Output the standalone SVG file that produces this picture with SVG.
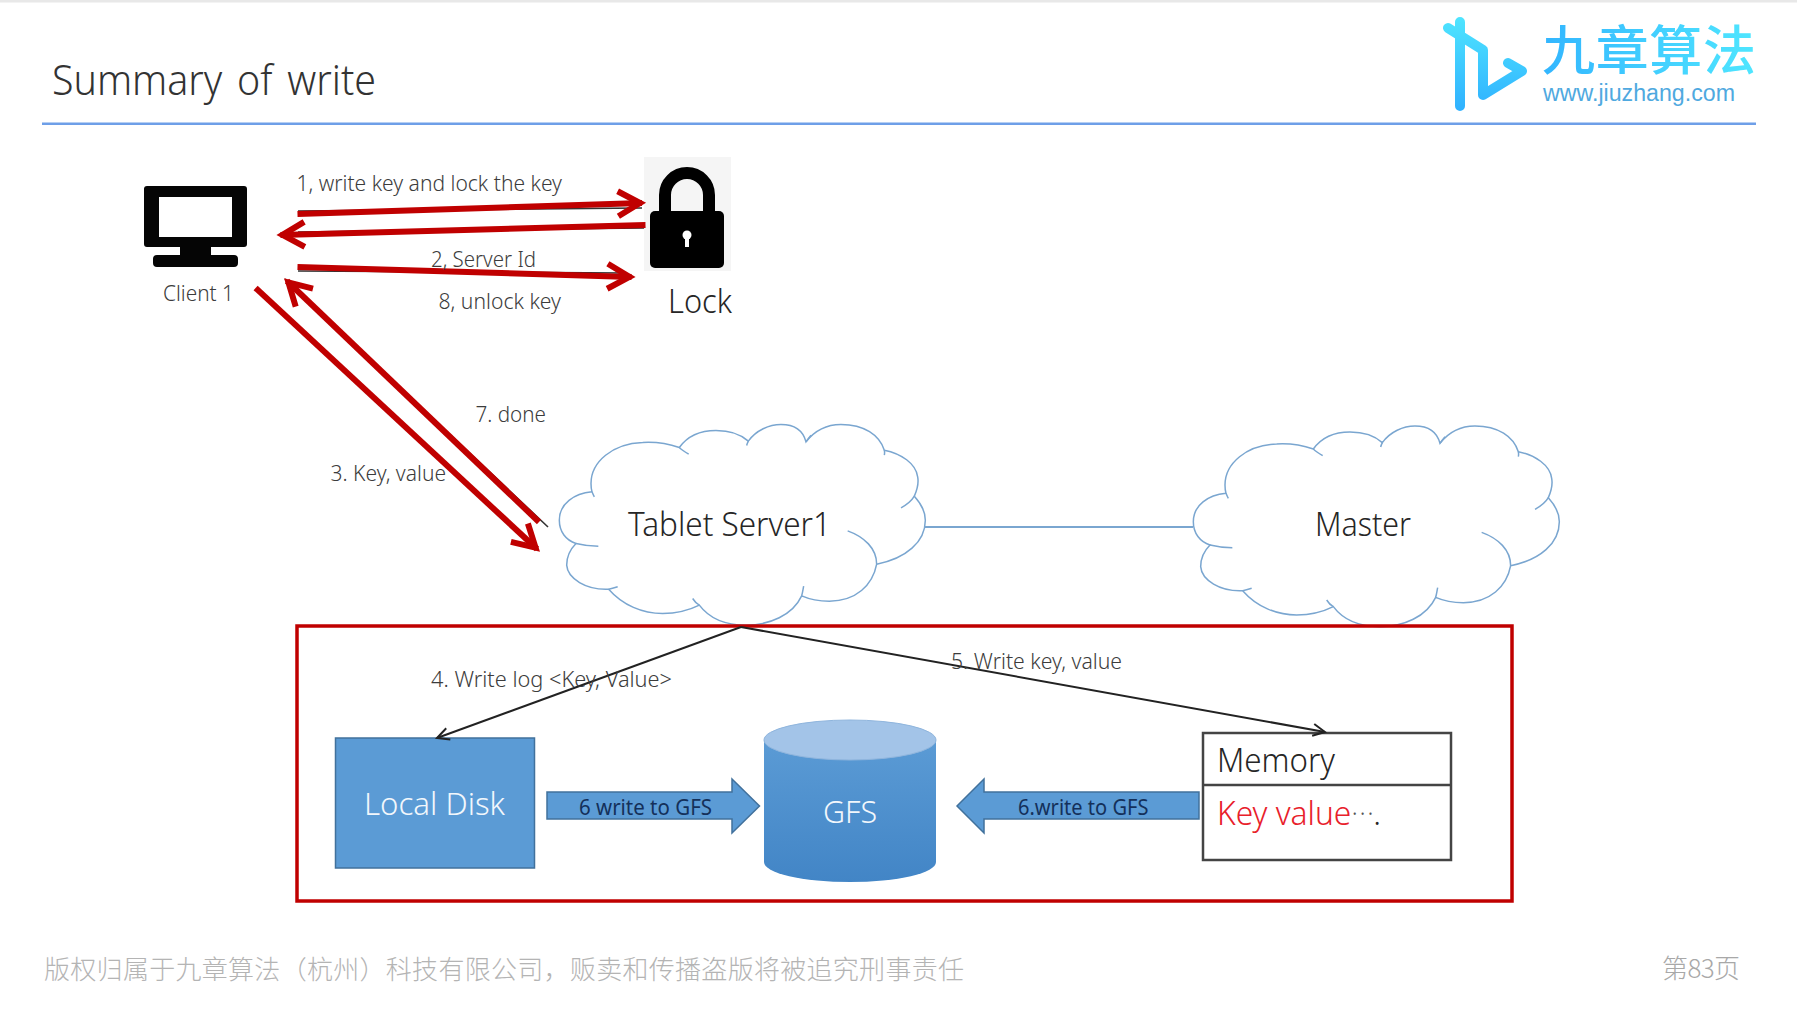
<svg xmlns="http://www.w3.org/2000/svg" width="1797" height="1016" viewBox="0 0 1797 1016">
<style>
.lbl{font-family:"Noto Sans","Open Sans","Liberation Sans",sans-serif;font-weight:300;font-size:21px;fill:#3c3c3c}
.big{font-family:"Noto Sans","Open Sans","Liberation Sans",sans-serif;font-weight:300;font-size:33px;fill:#262626}
.wht{font-family:"Noto Sans","Open Sans","Liberation Sans",sans-serif;font-weight:300;font-size:32px;fill:#f2f7fc}
.blk{font-family:"Noto Sans","Open Sans","Liberation Sans",sans-serif;font-weight:400;font-size:21px;fill:#14305a}
.cjk{font-family:"Noto Sans CJK SC","Noto Sans",sans-serif;font-weight:300}
.red{fill:none;stroke:#c00000;stroke-width:6}
.thin{fill:none;stroke:#222;stroke-width:2}
.shade{fill:none;stroke:#333;stroke-width:1.6}
.blu{fill:#5b9bd5;stroke:#41719c;stroke-width:1.5}
</style>
<defs>
<marker id="ah" markerUnits="userSpaceOnUse" markerWidth="40" markerHeight="40" viewBox="-30 -20 40 40" refX="0" refY="0" orient="auto" overflow="visible">
<path d="M-24 -12.5L-2 0L-24 12.5" fill="none" stroke="#c00000" stroke-width="6"/>
</marker>
<marker id="at" markerUnits="userSpaceOnUse" markerWidth="24" markerHeight="24" viewBox="-16 -12 24 24" refX="0" refY="0" orient="auto" overflow="visible">
<path d="M-12 -6L0 0L-12 6" fill="none" stroke="#222" stroke-width="2"/>
</marker>
<linearGradient id="gm" gradientUnits="userSpaceOnUse" x1="0" y1="15" x2="0" y2="112"><stop offset="0" stop-color="#4fe6ff"/><stop offset="1" stop-color="#2fb0ff"/></linearGradient>
<linearGradient id="gt" gradientUnits="userSpaceOnUse" x1="1543" y1="0" x2="1756" y2="0"><stop offset="0" stop-color="#33b6ff"/><stop offset="1" stop-color="#4fe6ff"/></linearGradient>
<linearGradient id="gc" x1="0" y1="0" x2="0" y2="1"><stop offset="0" stop-color="#5b9bd5"/><stop offset="1" stop-color="#4285c6"/></linearGradient>
<g id="cloud" transform="translate(1170 410) scale(.33333)" fill="none" stroke="#7aa6d0" stroke-width="4.5">
<path fill="#fff" d="M168 250C115 255 70 285 70 335C70 370 90 395 120 405C100 425 92 450 92 470C95 510 150 545 218 542C260 590 320 615 380 615C420 615 460 605 490 590C520 630 570 650 630 650C700 650 770 620 797 562C820 572 850 578 880 578C960 578 1010 530 1022 467C1110 450 1168 400 1168 335C1168 310 1155 285 1135 263C1145 240 1148 220 1145 205C1140 165 1095 135 1045 125C1030 80 985 48 915 48C870 48 835 68 810 100C800 62 770 48 735 48C700 48 660 65 637 98C615 78 580 66 540 66C495 66 455 82 430 117C395 105 355 100 320 102C230 105 165 160 165 225C165 235 166 243 168 250Z"/>
<path d="M168 250C170 255 172 260 175 265M120 405C140 410 165 413 187 413M218 542C226 541 236 538 245 535M490 590C480 585 475 578 470 570M797 562C800 552 801 543 803 533M1022 467C1022 420 985 385 935 367M1135 263C1125 280 1110 290 1095 298M1045 125C1046 130 1046 135 1045 140M810 100C815 92 820 86 825 80M637 98C635 102 633 106 632 111M430 117C438 125 448 131 458 137"/>
</g>
</defs>
<rect width="1797" height="1016" fill="#fff"/>
<rect width="1797" height="2.5" fill="#e8e8e8"/>
<g id="header">
<text x="52" y="95" class="big" style="font-size:43px;word-spacing:5px;font-weight:300;fill:#333" textLength="324" lengthAdjust="spacingAndGlyphs">Summary of write</text>
<rect x="42" y="122.500" width="1714" height="2.500" fill="#6e9fe8"/>
<path d="M1460 22V106M1448 28L1483 50V95L1522 71L1508 63" fill="none" stroke="url(#gm)" stroke-width="10" stroke-linecap="round" stroke-linejoin="round"/>
<text x="1542" y="70" style="font-family:'Noto Sans CJK SC',sans-serif;font-size:53px;font-weight:500" fill="url(#gt)" textLength="214">九章算法</text>
<text x="1543" y="101" style="font-family:'Liberation Sans',sans-serif;font-size:23px" fill="#4fa9e0" textLength="192" lengthAdjust="spacingAndGlyphs">www.jiuzhang.com</text>
</g>
<g id="client">
<path fill-rule="evenodd" d="M147 186H244Q247 186 247 189V244Q247 247 244 247H211V255H234Q238 255 238 259V263Q238 267 234 267H157Q153 267 153 263V259Q153 255 157 255H180V247H147Q144 247 144 244V189Q144 186 147 186ZM159 197V237H232V197Z" fill="#050505"/>
<text x="163" y="301" class="lbl" textLength="71" lengthAdjust="spacingAndGlyphs">Client 1</text>
</g>
<g id="lock">
<rect x="644" y="157" width="87" height="114" fill="#f5f5f5"/>
<path d="M665 213V195A22 22 0 0 1 709 195V213" fill="none" stroke="#000" stroke-width="12"/>
<rect x="650" y="211" width="74" height="57" rx="5" fill="#000"/>
<circle cx="687" cy="235" r="4.500" fill="#fff"/><rect x="685" y="236" width="4" height="11" fill="#fff"/>
<text x="668" y="313" class="big" textLength="64" lengthAdjust="spacingAndGlyphs">Lock</text>
</g>
<g id="tablet-server">
<use href="#cloud" transform="translate(-634 -1.500)"/>
<text x="628" y="536" class="big" textLength="203" lengthAdjust="spacingAndGlyphs">Tablet Server1</text>
</g>
<g id="master">
<use href="#cloud"/>
<text x="1315" y="536" class="big" textLength="96" lengthAdjust="spacingAndGlyphs">Master</text>
</g>
<g id="group-box"><rect x="297" y="626" width="1215" height="275" fill="none" stroke="#c00000" stroke-width="3.500"/></g>
<g id="local-disk">
<rect x="335.500" y="738" width="199" height="130" class="blu"/>
<text x="364" y="815" class="wht" textLength="141" lengthAdjust="spacingAndGlyphs">Local Disk</text>
</g>
<g id="gfs">
<path d="M764 740V862A86 20 0 0 0 936 862V740Z" fill="url(#gc)"/>
<ellipse cx="850" cy="740" rx="86" ry="20" fill="#a3c4e8" stroke="#8fb5dd" stroke-width="1"/>
<text x="823" y="823" class="wht" textLength="54" lengthAdjust="spacingAndGlyphs">GFS</text>
</g>
<g id="memory">
<rect x="1203" y="733" width="248" height="127" fill="#fff" stroke="#444" stroke-width="2.500"/>
<path d="M1203 785H1451" stroke="#444" stroke-width="2.500"/>
<text x="1217" y="772" class="big" textLength="118" lengthAdjust="spacingAndGlyphs">Memory</text>
<text x="1217" y="825" class="big" textLength="164" lengthAdjust="spacingAndGlyphs"><tspan style="fill:#e8202a">Key value</tspan><tspan dy="-10" class="cjk" style="font-size:22px;fill:#555">…</tspan><tspan dy="10">.</tspan></text>
</g>
<g id="connectors">
<path d="M925 527H1193" fill="none" stroke="#7aa6d0" stroke-width="2"/>
<path class="shade" d="M298 211L642 208M298 232L644 228M298 271L626 273M285 279L548 527"/>
<path class="red" marker-end="url(#ah)" d="M297.500 214L642 203"/>
<path class="red" marker-end="url(#ah)" d="M645.500 225L280.500 235"/>
<path class="red" marker-end="url(#ah)" d="M297.500 267L631.500 277"/>
<path class="red" marker-end="url(#ah)" d="M539 522L287 281"/>
<path class="red" marker-end="url(#ah)" d="M255.600 288L537 549"/>
<path class="thin" marker-end="url(#at)" d="M741 627L437 738"/>
<path class="thin" marker-end="url(#at)" d="M741 627L1325 732"/>
<path class="blu" d="M547 792H732V779L759.500 806L732 833V819H547Z"/>
<path class="blu" stroke="none" d="M1199 792H984V779L957 806L984 833V819H1199Z"/>
<text x="296.500" y="191" class="lbl" textLength="265.500" lengthAdjust="spacingAndGlyphs">1, write key and lock the key</text>
<text x="431" y="267" class="lbl" textLength="105" lengthAdjust="spacingAndGlyphs">2, Server Id</text>
<text x="438.500" y="309" class="lbl" textLength="122.500" lengthAdjust="spacingAndGlyphs">8, unlock key</text>
<text x="475.500" y="422" class="lbl" textLength="70.500" lengthAdjust="spacingAndGlyphs">7. done</text>
<text x="330.500" y="481" class="lbl" textLength="115.500" lengthAdjust="spacingAndGlyphs">3. Key, value</text>
<text x="431" y="687" class="lbl" textLength="241" lengthAdjust="spacingAndGlyphs">4. Write log &lt;Key, Value&gt;</text>
<text x="951" y="669" class="lbl" textLength="171" lengthAdjust="spacingAndGlyphs">5. Write key, value</text>
<text x="579" y="815" class="blk" textLength="133" lengthAdjust="spacingAndGlyphs">6 write to GFS</text>
<text x="1018" y="815" class="blk" textLength="130.500" lengthAdjust="spacingAndGlyphs">6.write to GFS</text>
</g>
<g id="footer">
<text x="44" y="979" class="cjk" style="font-size:26px;fill:#b4b4b4" textLength="920">版权归属于九章算法（杭州）科技有限公司，贩卖和传播盗版将被追究刑事责任</text>
<text x="1662" y="978" style="font-family:'Noto Sans CJK SC',sans-serif;font-size:26px;fill:#a8a8a8;font-weight:300" textLength="78">第83页</text>
</g>
</svg>
